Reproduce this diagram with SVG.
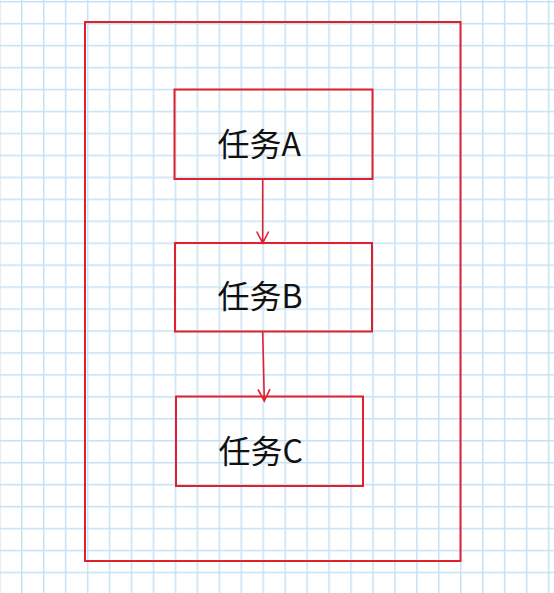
<svg xmlns="http://www.w3.org/2000/svg" width="554" height="593" viewBox="0 0 554 593">
<defs>
<pattern id="grid" x="21" y="1" width="21.95" height="21.95" patternUnits="userSpaceOnUse">
<path d="M0.75 0V21.95M0 0.75H21.95" stroke="#c6e2f3" stroke-width="1.5" fill="none"/>
</pattern>
<style>
.box{fill:none;stroke:#e0202e;stroke-width:2}
.edge{fill:none;stroke:#e0202e;stroke-width:1.6}
.lbl{font-family:"Noto Sans CJK SC","Noto Sans",sans-serif;font-size:32px;fill:#111}
</style>
</defs>
<rect width="554" height="593" fill="#ffffff"/>
<rect x="0" y="0" width="554" height="593" fill="url(#grid)"/>
<g id="container"><rect class="box" x="85" y="22" width="375.5" height="539"/></g>
<g id="taskA"><rect class="box" x="174.5" y="89.5" width="198" height="89.5"/><text class="lbl" x="217.5" y="156">任务A</text></g>
<g id="taskB"><rect class="box" x="175" y="243" width="197" height="88.5"/><text class="lbl" x="217.5" y="308">任务B</text></g>
<g id="taskC"><rect class="box" x="176" y="396.5" width="187" height="89.5"/><text class="lbl" x="218.5" y="463">任务C</text></g>
<g id="connectors">
<path class="edge" d="M262.7 179V243M256.7 231.5L262.7 243L268.7 231.5"/>
<path class="edge" d="M262.7 331.5L264.3 401M258 389.5L264.3 401L270 389.2"/>
</g>
</svg>
